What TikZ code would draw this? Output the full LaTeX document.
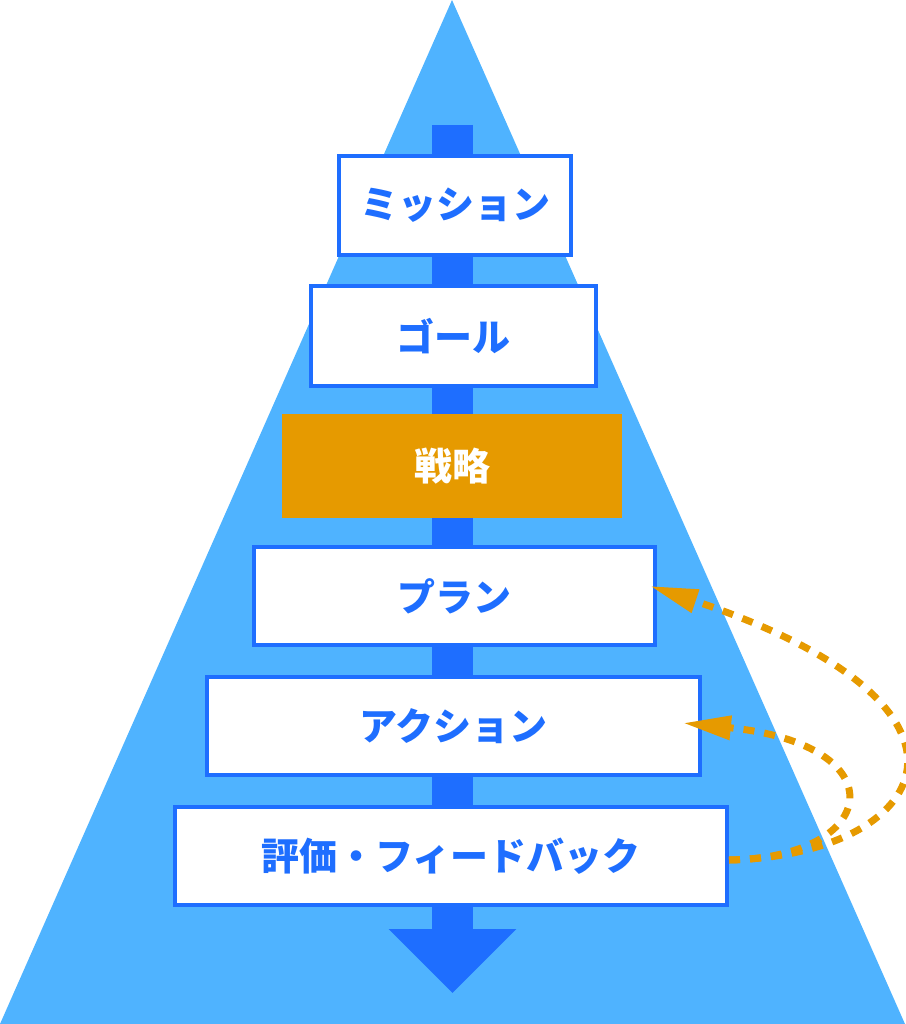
\documentclass[tikz,border=0pt]{standalone}
\usepackage{fontspec}
\newfontfamily\jp{Noto Sans CJK JP}
\usetikzlibrary{arrows.meta}
\definecolor{tri}{RGB}{79,179,255}
\definecolor{bblue}{RGB}{30,110,255}
\definecolor{orng}{RGB}{230,154,0}
\tikzset{
  stage/.style={draw=bblue, line width=4pt, fill=white, text=bblue, inner sep=0pt,
    font=\jp\bfseries\fontsize{38}{40}\selectfont},
  keystage/.style={fill=orng, text=white, inner sep=0pt,
    font=\jp\bfseries\fontsize{38}{40}\selectfont},
  loop/.style={draw=orng, line width=7pt, dash pattern=on 11pt off 10pt,
    -{Triangle[length=48pt,width=23pt]}}
}
\begin{document}
\begin{tikzpicture}[x=1pt,y=-1pt]
\useasboundingbox (0,0) rectangle (905,1024);
\fill[tri] (452,0) -- (905,1024) -- (0,1024) -- cycle;
\coordinate (flowtop) at (452.5,125);
\coordinate (flowend) at (452.5,993);
\draw[bblue, line width=41pt, -{Triangle[length=64pt,width=124pt]}] (flowtop) -- (flowend);
\node[stage, minimum width=232pt, minimum height=99pt] (mission) at (455,205.5) {ミッション};
\node[stage, minimum width=285pt, minimum height=100pt] (goal) at (453.5,336) {ゴール};
\node[keystage, minimum width=340pt, minimum height=104pt] (strategy) at (452,466) {戦略};
\node[stage, minimum width=401pt, minimum height=98pt] (plan) at (454.5,596) {プラン};
\node[stage, minimum width=493pt, minimum height=98pt] (action) at (453.5,726) {アクション};
\node[stage, minimum width=552pt, minimum height=98pt] (review) at (451,856) {評価・フィードバック};
\coordinate (fbstart) at ([yshift=-4pt]review.east);
\coordinate (plantip) at ([xshift=-7pt,yshift=10pt]plan.east);
\coordinate (actiontip) at ([xshift=-19pt,yshift=3pt]action.east);
\draw[loop] (fbstart) .. controls (930,855) and (1015,708) .. (plantip);
\draw[loop] (fbstart) .. controls (880,858) and (900,745) .. (actiontip);
\end{tikzpicture}
\end{document}
